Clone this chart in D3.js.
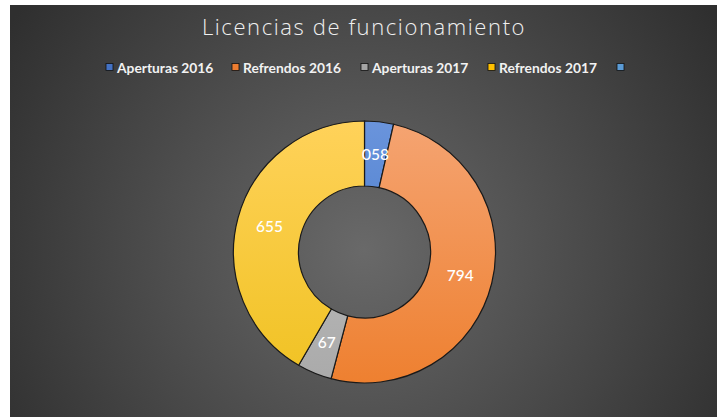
<!DOCTYPE html>
<html>
<head>
<meta charset="utf-8">
<script src="https://cdn.jsdelivr.net/npm/d3@7"></script>
<style>
  body { margin: 0; background: #fff; }
  svg { display: block; }
</style>
</head>
<body>
<svg id="chart" width="717" height="417"></svg>
<script>
const W = 717, H = 417;

// data
const categories = ["Aperturas 2016", "Refrendos 2016", "Aperturas 2017", "Refrendos 2017", ""];
const values = [1058, 15010, 1270, 12360];
const labels = ["058", "794", "67", "655"];
const colors = ["#4472c4", "#ed7d31", "#a5a5a5", "#ffc000", "#5b9bd5"];
const legendX = [106, 232, 361, 488, 617];

const svg = d3.select("#chart");
const defs = svg.append("defs");

const bg = defs.append("radialGradient")
  .attr("id", "bg")
  .attr("gradientUnits", "userSpaceOnUse")
  .attr("cx", 364).attr("cy", 250).attr("r", 420);
bg.append("stop").attr("offset", "0%").attr("stop-color", "#696969");
bg.append("stop").attr("offset", "100%").attr("stop-color", "#2f2f2f");

svg.append("rect")
  .attr("x", 10).attr("y", 5)
  .attr("width", W - 10).attr("height", H - 5)
  .style("fill", "url(#bg)");

// title
svg.append("text")
  .attr("x", 364).attr("y", 35)
  .attr("text-anchor", "middle")
  .style("font", "300 22px 'Open Sans', sans-serif")
  .style("letter-spacing", "1.6px")
  .style("fill", "#f0f0f0")
  .text("Licencias de funcionamiento");

// legend
const leg = svg.append("g").selectAll("g")
  .data(categories)
  .join("g")
  .attr("transform", (d, i) => `translate(${legendX[i]}, 63.5)`);

leg.append("rect")
  .attr("width", 7).attr("height", 7)
  .attr("fill", (d, i) => colors[i])
  .attr("stroke", "#111").attr("stroke-width", 0.8);

leg.append("text")
  .attr("x", 11).attr("y", 9.8)
  .style("font", "700 13.8px Lato, sans-serif")
  .style("fill", "#f2f2f2")
  .text(d => d);

// slice gradients
const shade = [["#6a94dc", "#3a72c4"], ["#f5a472", "#ee8030"], ["#c4c4c4", "#aaaaaa"], ["#ffd25a", "#f0c222"]];
shade.forEach((s, i) => {
  const g = defs.append("linearGradient")
    .attr("id", "sl" + i)
    .attr("gradientUnits", "userSpaceOnUse")
    .attr("x1", 0).attr("y1", -131).attr("x2", 0).attr("y2", 131);
  g.append("stop").attr("offset", "0%").attr("stop-color", s[0]);
  g.append("stop").attr("offset", "100%").attr("stop-color", s[1]);
});

const cx = 364.5, cy = 252, outer = 131, inner = 66;

const pie = d3.pie().sort(null).value(d => d);
const arcs = pie(values);
const arc = d3.arc().innerRadius(inner).outerRadius(outer);

const donut = svg.append("g").attr("transform", `translate(${cx}, ${cy})`);

donut.selectAll("path")
  .data(arcs)
  .join("path")
  .attr("d", arc)
  .style("fill", (d, i) => `url(#sl${i})`)
  .attr("stroke", "#1a1a1a")
  .attr("stroke-width", 1.2);

donut.selectAll("text")
  .data(arcs)
  .join("text")
  .attr("transform", d => `translate(${arc.centroid(d)})`)
  .attr("text-anchor", "middle")
  .attr("dy", "0.35em")
  .style("font", "500 15.5px Lato, sans-serif")
  .style("fill", "#ffffff")
  .text((d, i) => labels[i]);
</script>
</body>
</html>
